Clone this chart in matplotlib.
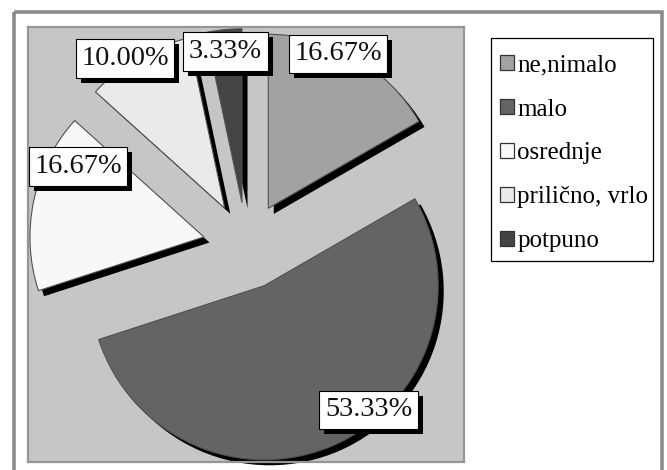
import matplotlib
matplotlib.use("Agg")
import matplotlib.pyplot as plt
import matplotlib.patheffects as pe
from matplotlib.patches import Patch, Rectangle

categories = ["ne,nimalo", "malo", "osrednje", "prilično, vrlo", "potpuno"]
percents = [16.67, 53.33, 16.67, 10.00, 3.33]
colors = ["#a2a2a2", "#646464", "#f8f8f8", "#eaeaea", "#444444"]

W, H = 667, 470
plt.rcParams["font.family"] = ["Liberation Serif", "DejaVu Serif"]

fig = plt.figure(figsize=(W / 100, H / 100), dpi=100, facecolor="white")

# plot area, pixel box from the reference
left, top, right, bottom = 28, 27, 464, 462
cx, cy, radius = 246.5, 246, 174
ax = fig.add_axes([left / W, 1 - bottom / H, (right - left) / W, (bottom - top) / H])

# 5-6px black drop shadow, given in points
shadow = [pe.SimplePatchShadow(offset=(4, -4), shadow_rgbFace="black", alpha=1), pe.Normal()]
ax.pie(percents, colors=colors, startangle=90, counterclock=False, explode=[0.25] * len(percents),
       wedgeprops={"edgecolor": "#505050", "linewidth": 0.8, "path_effects": shadow, "clip_on": False})
ax.set_xlim((left - cx) / radius, (right - cx) / radius)
ax.set_ylim((cy - bottom) / radius, (cy - top) / radius)
ax.set_frame_on(True)
ax.set_facecolor("#c6c6c6")
ax.set_xticks([])
ax.set_yticks([])
for s in ax.spines.values():
    s.set_color("#969696")
    s.set_linewidth(1.6)

# overlay in pixel coordinates for frame, labels and legend
ov = fig.add_axes([0, 0, 1, 1], zorder=5)
ov.set_xlim(0, W)
ov.set_ylim(H, 0)
ov.axis("off")

ov.add_patch(Rectangle((13.5, 12), 648, 480, fill=False, edgecolor="#8c8c8c", linewidth=2.6))

# label boxes: x0, y0, x1, y1 for each slice
label_boxes = [(289, 35, 387, 73), (319, 391, 418, 429), (29, 147, 127, 186), (76, 39, 174, 78), (183, 32, 268, 71)]
for value, (x0, y0, x1, y1) in zip(percents, label_boxes):
    ov.add_patch(Rectangle((x0 + 5, y0 + 5), x1 - x0, y1 - y0, facecolor="black", edgecolor="none"))
    ov.add_patch(Rectangle((x0, y0), x1 - x0, y1 - y0, facecolor="white", edgecolor="black", linewidth=0.8))
    ov.text((x0 + x1) / 2, (y0 + y1) / 2, f"{value:.2f}%", fontsize=20.4, color="#111111",
            ha="center", va="center")

# legend frame drawn apart so the entries can sit lower than the legend's own padding allows
ov.add_patch(Rectangle((491, 38), 162, 223, facecolor="white", edgecolor="black", linewidth=0.9))
handles = [Patch(facecolor=c, edgecolor="#333333", linewidth=0.9) for c in colors]
leg = ov.legend(handles, categories, loc="upper left", bbox_to_anchor=(493 / W, 1 - 47 / H),
                bbox_transform=fig.transFigure, fontsize=18, frameon=False,
                handlelength=0.53, handleheight=0.53, handletextpad=0.14, labelspacing=0.88,
                borderpad=0.3, borderaxespad=0)

fig.savefig("out.png", dpi=100)
